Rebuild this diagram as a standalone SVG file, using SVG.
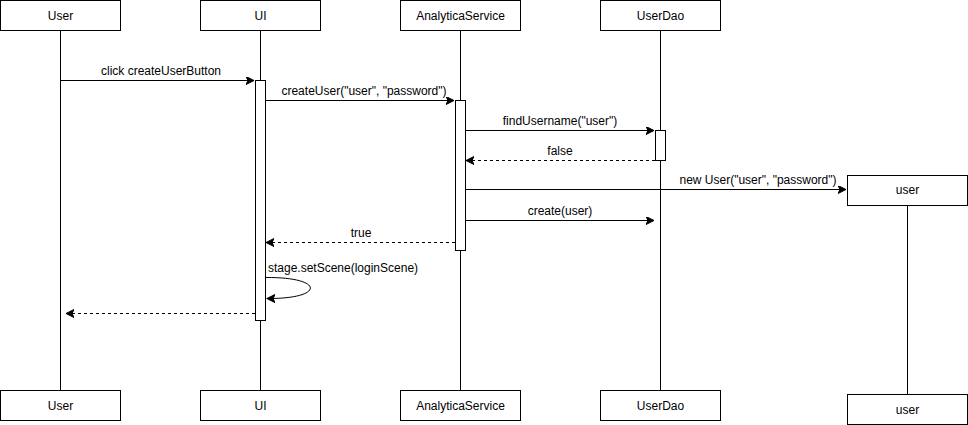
<svg xmlns="http://www.w3.org/2000/svg" width="968" height="425" viewBox="0 0 968 425">
<style>
.box{fill:#fff;stroke:#000;stroke-width:1}
.act{fill:#fff;stroke:#000;stroke-width:1}
.life{stroke:#000;stroke-width:1;fill:none}
.msg{stroke:#000;stroke-width:1;fill:none;marker-end:url(#arr)}
.ret{stroke:#000;stroke-width:1;fill:none;stroke-dasharray:3 3;marker-end:url(#arr)}
.t{font-family:"Liberation Sans",Arial,sans-serif;font-size:12px;fill:#000;text-anchor:middle}
.l{font-family:"Liberation Sans",Arial,sans-serif;font-size:12px;fill:#000;text-anchor:middle}
</style>
<defs>
<marker id="arr" markerWidth="10" markerHeight="10" refX="8" refY="4" orient="auto" markerUnits="userSpaceOnUse">
<path d="M0,0 L8,4 L0,8 L2,4 z" fill="#000" stroke="#000" stroke-width="1"/>
</marker>
</defs>
<g id="lifelines">
<line class="life" x1="60.5" y1="30" x2="60.5" y2="390"/>
<line class="life" x1="260.5" y1="30" x2="260.5" y2="390"/>
<line class="life" x1="460.5" y1="30" x2="460.5" y2="390"/>
<line class="life" x1="660.5" y1="30" x2="660.5" y2="390"/>
<line class="life" x1="907.5" y1="205" x2="907.5" y2="394"/>
</g>
<g id="node-user">
<rect class="box" x="0.5" y="0.5" width="120" height="30"/><text class="t" x="60.5" y="20">User</text>
<rect class="box" x="0.5" y="390.5" width="120" height="30"/><text class="t" x="60.5" y="410">User</text>
</g>
<g id="node-ui">
<rect class="box" x="200.5" y="0.5" width="120" height="30"/><text class="t" x="260.5" y="20">UI</text>
<rect class="box" x="200.5" y="390.5" width="120" height="30"/><text class="t" x="260.5" y="410">UI</text>
<rect class="act" x="255.5" y="80.5" width="10" height="240"/>
</g>
<g id="node-analytica">
<rect class="box" x="400.5" y="0.5" width="120" height="30"/><text class="t" x="460.5" y="20">AnalyticaService</text>
<rect class="box" x="400.5" y="390.5" width="120" height="30"/><text class="t" x="460.5" y="410">AnalyticaService</text>
<rect class="act" x="455.5" y="100.5" width="10" height="150"/>
</g>
<g id="node-userdao">
<rect class="box" x="600.5" y="0.5" width="120" height="30"/><text class="t" x="660.5" y="20">UserDao</text>
<rect class="box" x="600.5" y="390.5" width="120" height="30"/><text class="t" x="660.5" y="410">UserDao</text>
<rect class="act" x="655.5" y="130.5" width="10" height="30"/>
</g>
<g id="node-userobj">
<rect class="box" x="847.5" y="175.5" width="120" height="30"/><text class="t" x="907.5" y="194">user</text>
<rect class="box" x="847.5" y="394.5" width="120" height="30"/><text class="t" x="907.5" y="414">user</text>
</g>
<g id="connectors">
<line class="msg" x1="61" y1="80.5" x2="254" y2="80.5"/>
<text class="l" x="161" y="75">click createUserButton</text>
<line class="msg" x1="266" y1="100.5" x2="454" y2="100.5"/>
<text class="l" x="364" y="95">createUser("user", "password")</text>
<line class="msg" x1="466" y1="130.5" x2="654" y2="130.5"/>
<text class="l" x="560" y="125">findUsername("user")</text>
<line class="ret" x1="655" y1="160.5" x2="466" y2="160.5"/>
<text class="l" x="560" y="155">false</text>
<line class="msg" x1="466" y1="189.5" x2="846" y2="189.5"/>
<text class="l" x="758" y="184">new User("user", "password")</text>
<line class="msg" x1="466" y1="220.5" x2="654" y2="220.5"/>
<text class="l" x="560" y="215">create(user)</text>
<line class="ret" x1="455" y1="242.5" x2="266" y2="242.5"/>
<text class="l" x="361" y="237">true</text>
<path class="msg" d="M266,277.5 C325,277 325,299 267,298.5"/>
<text class="l" x="343" y="272">stage.setScene(loginScene)</text>
<line class="ret" x1="255" y1="313.5" x2="66" y2="313.5"/>
</g>
</svg>
